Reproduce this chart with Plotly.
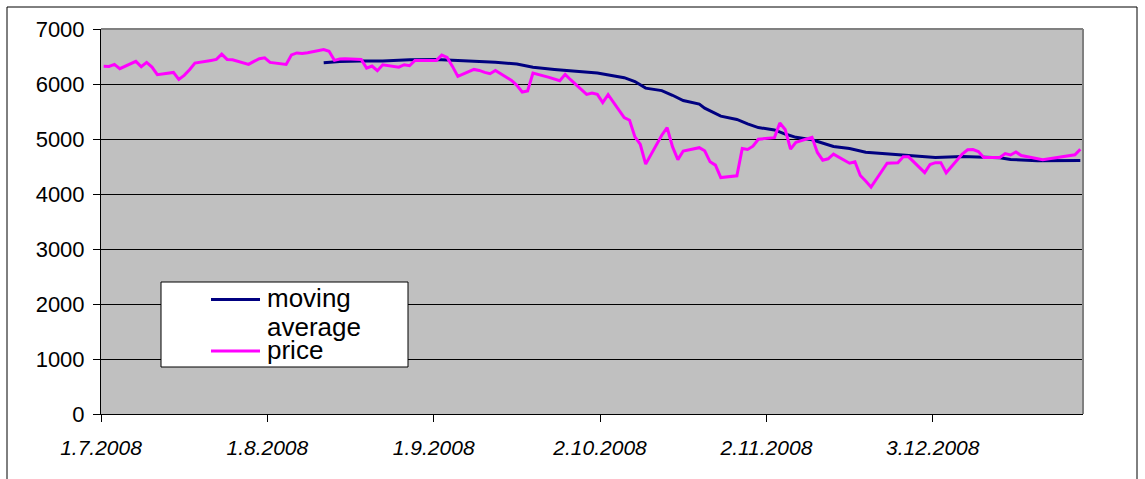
from datetime import datetime, timedelta

import plotly.graph_objects as go

# Daily closing prices (trading days only)
DATES = [
    "2008-07-01", "2008-07-02", "2008-07-03", "2008-07-04",
    "2008-07-07", "2008-07-08", "2008-07-09", "2008-07-10", "2008-07-11",
    "2008-07-14", "2008-07-15", "2008-07-16", "2008-07-17", "2008-07-18",
    "2008-07-21", "2008-07-22", "2008-07-23", "2008-07-24", "2008-07-25",
    "2008-07-28", "2008-07-29", "2008-07-30", "2008-07-31", "2008-08-01",
    "2008-08-04", "2008-08-05", "2008-08-06", "2008-08-07", "2008-08-08",
    "2008-08-11", "2008-08-12", "2008-08-13", "2008-08-14", "2008-08-15",
    "2008-08-18", "2008-08-19", "2008-08-20", "2008-08-21", "2008-08-22",
    "2008-08-25", "2008-08-26", "2008-08-27", "2008-08-28", "2008-08-29",
    "2008-09-01", "2008-09-02", "2008-09-03", "2008-09-04", "2008-09-05",
    "2008-09-08", "2008-09-09", "2008-09-10", "2008-09-11", "2008-09-12",
    "2008-09-15", "2008-09-16", "2008-09-17", "2008-09-18", "2008-09-19",
    "2008-09-22", "2008-09-23", "2008-09-24", "2008-09-25", "2008-09-26",
    "2008-09-29", "2008-09-30", "2008-10-01", "2008-10-02", "2008-10-03",
    "2008-10-06", "2008-10-07", "2008-10-08", "2008-10-09", "2008-10-10",
    "2008-10-13", "2008-10-14", "2008-10-15", "2008-10-16", "2008-10-17",
    "2008-10-20", "2008-10-21", "2008-10-22", "2008-10-23", "2008-10-24",
    "2008-10-27", "2008-10-28", "2008-10-29", "2008-10-30", "2008-10-31",
    "2008-11-03", "2008-11-04", "2008-11-05", "2008-11-06", "2008-11-07",
    "2008-11-10", "2008-11-11", "2008-11-12", "2008-11-13", "2008-11-14",
    "2008-11-17", "2008-11-18", "2008-11-19", "2008-11-20", "2008-11-21",
    "2008-11-24", "2008-11-25", "2008-11-26", "2008-11-27", "2008-11-28",
    "2008-12-01", "2008-12-02", "2008-12-03", "2008-12-04", "2008-12-05",
    "2008-12-08", "2008-12-09", "2008-12-10", "2008-12-11", "2008-12-12",
    "2008-12-15", "2008-12-16", "2008-12-17", "2008-12-18", "2008-12-19",
    "2008-12-22", "2008-12-23", "2008-12-29", "2008-12-30",
]

PRICE = [
    6324, 6320, 6356, 6278,
    6411, 6314, 6392, 6307, 6170,
    6211, 6084, 6157, 6260, 6380,
    6429, 6447, 6543, 6447, 6441,
    6356, 6411, 6459, 6477, 6392,
    6356, 6530, 6565, 6555, 6570,
    6625, 6595, 6430, 6453, 6459,
    6447, 6290, 6326, 6242, 6350,
    6307, 6350, 6332, 6429, 6429,
    6429, 6526, 6483, 6320, 6139,
    6265, 6247, 6211, 6187, 6245,
    6066, 5975, 5854, 5872, 6199,
    6121, 6084, 6060, 6175, 6078,
    5812, 5836, 5812, 5662, 5806,
    5390, 5341, 5038, 4900, 4543,
    5069, 5208, 4860, 4625, 4782,
    4842, 4785, 4585, 4525, 4298,
    4330, 4827, 4809, 4869, 4996,
    5025, 5292, 5172, 4815, 4940,
    5030, 4755, 4615, 4640, 4724,
    4560, 4585, 4337, 4235, 4125,
    4560, 4565, 4567, 4676, 4676,
    4390, 4537, 4570, 4570, 4386,
    4727, 4803, 4809, 4772, 4664,
    4664, 4736, 4709, 4763, 4700,
    4640, 4625, 4712, 4815,
]

# Moving average (30 trading days)
MA_DATES = [
    "2008-08-11", "2008-08-14", "2008-08-18", "2008-08-22", "2008-08-27",
    "2008-09-01", "2008-09-04", "2008-09-09", "2008-09-12", "2008-09-16",
    "2008-09-19", "2008-09-23", "2008-09-26", "2008-10-01", "2008-10-06",
    "2008-10-08", "2008-10-10", "2008-10-13", "2008-10-15", "2008-10-17",
    "2008-10-20", "2008-10-21", "2008-10-24", "2008-10-27", "2008-10-29",
    "2008-10-31", "2008-11-03", "2008-11-05", "2008-11-07", "2008-11-10",
    "2008-11-14", "2008-11-17", "2008-11-20", "2008-11-24", "2008-11-26",
    "2008-12-01", "2008-12-03", "2008-12-08", "2008-12-11", "2008-12-15",
    "2008-12-17", "2008-12-22", "2008-12-30",
]

MA_VALUES = [
    6387, 6410, 6420, 6420, 6440,
    6445, 6430, 6415, 6395, 6365,
    6305, 6265, 6240, 6200, 6115,
    6045, 5925, 5880, 5795, 5700,
    5635, 5560, 5415, 5355, 5275,
    5208, 5165, 5090, 5030, 4985,
    4865, 4827, 4760, 4733, 4708,
    4680, 4665, 4680, 4676, 4658,
    4628, 4603, 4610,
]

# Month labels on the date axis
TICK_DATES = ["2008-07-01", "2008-08-01", "2008-09-01",
              "2008-10-02", "2008-11-02", "2008-12-03"]
TICK_LABELS = ["1.7.2008", "1.8.2008", "1.9.2008",
               "2.10.2008", "2.11.2008", "3.12.2008"]

W, H = 1145, 479
ML, MR, MT, MB = 101, 62, 29, 65
PW, PH = W - ML - MR, H - MT - MB


def px_x(x):
    return (x - ML) / PW


def px_y(y):
    return (H - MB - y) / PH


FONT = "Liberation Sans, Arial, sans-serif"

fig = go.Figure()
fig.add_trace(go.Scatter(
    x=MA_DATES, y=MA_VALUES, mode="lines", name="moving average",
    line=dict(color="#000080", width=3),
))
fig.add_trace(go.Scatter(
    x=DATES, y=PRICE, mode="lines", name="price",
    line=dict(color="#FF00FF", width=3),
))

# each day occupies a one-day slot; month labels sit at the slot start
tickvals = [(datetime.fromisoformat(d) - timedelta(hours=12)).isoformat()
            for d in TICK_DATES]

fig.update_xaxes(
    type="date",
    range=["2008-06-30 12:00", "2008-12-30 12:00"],
    tickvals=tickvals, ticktext=TICK_LABELS,
    ticks="outside", ticklen=7, tickcolor="black", tickwidth=1,
    showline=True, linecolor="black", linewidth=1,
    showgrid=False, zeroline=False,
    tickfont=dict(family=FONT, size=21, color="black", style="italic"),
    ticklabelstandoff=8,
)
fig.update_yaxes(
    range=[0, 7000], tickvals=[0, 1000, 2000, 3000, 4000, 5000, 6000, 7000],
    ticks="outside", ticklen=7, tickcolor="black", tickwidth=1,
    showline=True, linecolor="black", linewidth=1,
    showgrid=True, gridcolor="black", gridwidth=1, zeroline=False,
    tickfont=dict(family=FONT, size=22, color="black"),
    ticklabelstandoff=4,
)

shapes = [
    # outer chart frame
    dict(type="rect", xref="paper", yref="paper",
         x0=px_x(7), x1=px_x(1137), y0=px_y(500), y1=px_y(7),
         line=dict(color="black", width=1), fillcolor="rgba(0,0,0,0)"),
    # plot area border (top and right)
    dict(type="line", xref="paper", yref="paper", x0=0, x1=1, y0=1, y1=1,
         line=dict(color="#808080", width=2)),
    dict(type="line", xref="paper", yref="paper", x0=1, x1=1, y0=0, y1=1,
         line=dict(color="#808080", width=2)),
    # legend box and its line samples
    dict(type="rect", xref="paper", yref="paper",
         x0=px_x(161), x1=px_x(408), y0=px_y(367), y1=px_y(282),
         line=dict(color="black", width=1), fillcolor="white"),
    dict(type="line", xref="paper", yref="paper",
         x0=px_x(211), x1=px_x(260), y0=px_y(299.5), y1=px_y(299.5),
         line=dict(color="#000080", width=3)),
    dict(type="line", xref="paper", yref="paper",
         x0=px_x(211), x1=px_x(260), y0=px_y(351), y1=px_y(351),
         line=dict(color="#FF00FF", width=3)),
]

annotations = []
for text, yc in [("moving", 298), ("average", 327), ("price", 350)]:
    annotations.append(dict(
        text=text, xref="paper", yref="paper", x=px_x(265), y=px_y(yc),
        xanchor="left", yanchor="middle", showarrow=False,
        font=dict(family=FONT, size=26, color="black"),
    ))

fig.update_layout(
    width=W, height=H,
    margin=dict(l=ML, r=MR, t=MT, b=MB, autoexpand=False),
    paper_bgcolor="white", plot_bgcolor="#C0C0C0",
    showlegend=False,
    shapes=shapes, annotations=annotations,
)

fig.write_html("out.html")
